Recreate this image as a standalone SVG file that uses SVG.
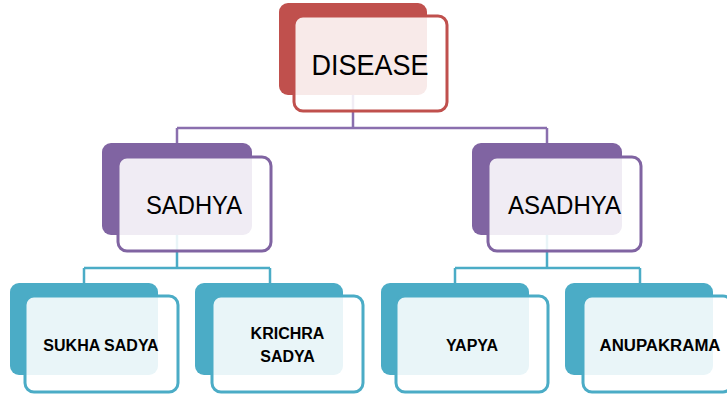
<svg xmlns="http://www.w3.org/2000/svg" width="727" height="399" viewBox="0 0 727 399">
  <style>
    .back { stroke: none; }
    .front { fill: #ffffff; fill-opacity: 0.88; stroke-width: 3; }
    .red .back { fill: #c0504d; }
    .red .front { stroke: #c0504d; }
    .purple .back { fill: #8064a2; }
    .purple .front { stroke: #8064a2; }
    .cyan .back { fill: #4bacc6; }
    .cyan .front { stroke: #4bacc6; }
    .lbl { font-family: "Liberation Sans", Arial, sans-serif; fill: #000; text-anchor: middle; }
    .big { font-size: 29px; }
    .mid { font-size: 26px; }
    .small { font-size: 16px; font-weight: bold; }
    .conn { fill: none; stroke-width: 2.5; }
  </style>
  <rect width="727" height="399" fill="#ffffff"/>

  <!-- connectors -->
  <g id="connectors">
    <path class="conn" stroke="#8a6fae" d="M353 95 V128 M177 128 H547 M177 128 V145 M547 128 V145"/>
    <path class="conn" stroke="#4bacc6" d="M177 235 V268 M84 268 H270 M84 268 V285 M270 268 V285"/>
    <path class="conn" stroke="#4bacc6" d="M547 235 V268 M455 268 H640 M455 268 V285 M640 268 V285"/>
  </g>

  <g id="disease" class="red">
    <rect class="back" x="279" y="3" width="148" height="92" rx="9"/>
    <rect class="front" x="294" y="16" width="153" height="95" rx="9"/>
    <text class="lbl big" x="370" y="75" textLength="117" lengthAdjust="spacingAndGlyphs">DISEASE</text>
  </g>

  <g id="sadhya" class="purple">
    <rect class="back" x="102" y="143" width="150" height="92" rx="9"/>
    <rect class="front" x="118" y="157" width="153" height="94" rx="9"/>
    <text class="lbl mid" x="194" y="214" textLength="96" lengthAdjust="spacingAndGlyphs">SADHYA</text>
  </g>

  <g id="asadhya" class="purple">
    <rect class="back" x="472" y="143" width="150" height="92" rx="9"/>
    <rect class="front" x="488" y="157" width="153" height="94" rx="9"/>
    <text class="lbl mid" x="564.5" y="214" textLength="113" lengthAdjust="spacingAndGlyphs">ASADHYA</text>
  </g>

  <g id="sukha-sadya" class="cyan">
    <rect class="back" x="10" y="283" width="148" height="92" rx="9"/>
    <rect class="front" x="25" y="296" width="153" height="96" rx="9"/>
    <text class="lbl small" x="101" y="351">SUKHA SADYA</text>
  </g>

  <g id="krichra-sadya" class="cyan">
    <rect class="back" x="195" y="283" width="148" height="92" rx="9"/>
    <rect class="front" x="212" y="296" width="151" height="96" rx="9"/>
    <text class="lbl small" x="287.5" y="339">KRICHRA</text>
    <text class="lbl small" x="287.5" y="362">SADYA</text>
  </g>

  <g id="yapya" class="cyan">
    <rect class="back" x="381" y="283" width="148" height="92" rx="9"/>
    <rect class="front" x="396" y="296" width="152" height="96" rx="9"/>
    <text class="lbl small" x="472" y="351">YAPYA</text>
  </g>

  <g id="anupakrama" class="cyan">
    <rect class="back" x="565" y="283" width="148" height="92" rx="9"/>
    <rect class="front" x="583" y="296" width="149" height="96" rx="9"/>
    <text class="lbl small" x="660" y="351" textLength="121" lengthAdjust="spacingAndGlyphs">ANUPAKRAMA</text>
  </g>
</svg>
